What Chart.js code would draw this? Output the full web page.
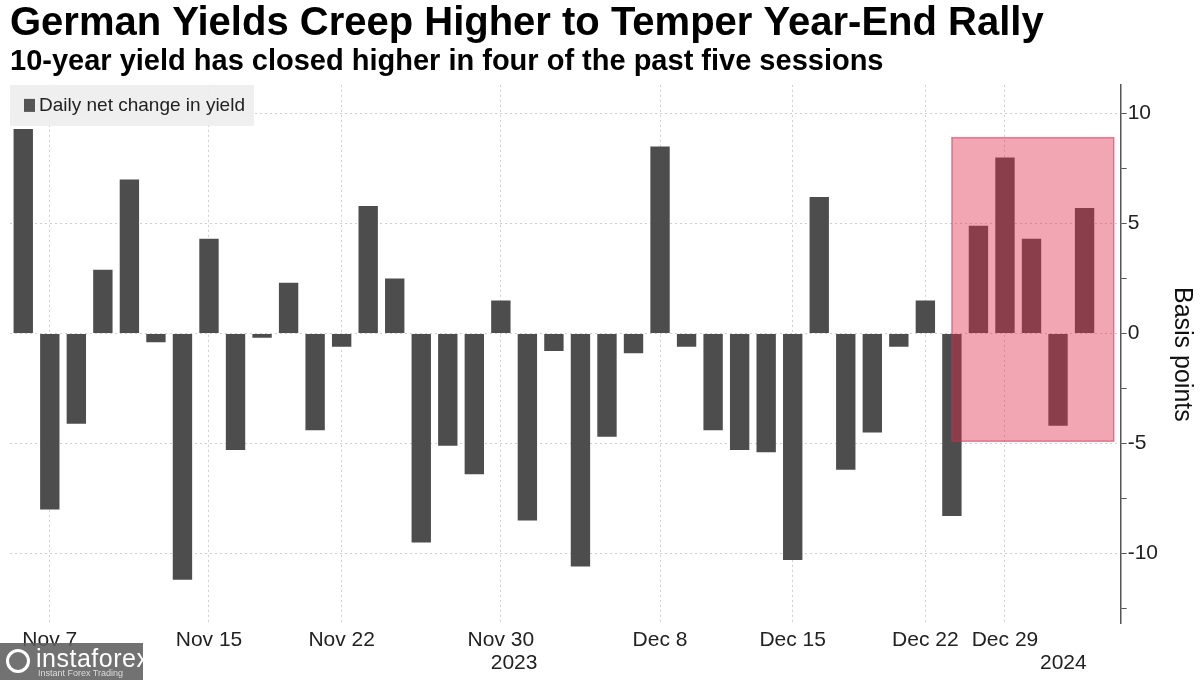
<!DOCTYPE html>
<html>
<head>
<meta charset="utf-8">
<script src="https://cdn.jsdelivr.net/npm/chart.js@4.4.0/dist/chart.umd.min.js"></script>
<style>
    html, body { margin: 0; padding: 0; background: #fff; }
    #wrap { position: relative; width: 1200px; height: 680px; }
    #logo {
        position: absolute; left: 0; top: 643px; width: 143px; height: 37px;
        background: rgba(95, 95, 95, 0.88); color: #fff;
        font-family: 'Liberation Sans', sans-serif;
    }
    #logo .big { position: absolute; left: 36px; top: 1px; font-size: 25px; letter-spacing: 0.5px; }
    #logo .small { position: absolute; left: 38px; top: 25px; font-size: 9px; color: #ddd; }
    #logo .gear { position: absolute; left: 6px; top: 6px; width: 24px; height: 24px; border-radius: 50%; border: 3px solid #fff; box-sizing: border-box; }
</style>
</head>
<body>
<div id="wrap">
    <canvas id="myChart" width="1200" height="680"></canvas>
    <div id="logo"><div class="gear"></div><span class="big">instaforex</span><span class="small">Instant Forex Trading</span></div>
</div>
<script>
    // trading days shown on the chart
    const dates = ['Nov 6', 'Nov 7', 'Nov 8', 'Nov 9', 'Nov 10', 'Nov 13', 'Nov 14', 'Nov 15', 'Nov 16', 'Nov 17',
        'Nov 20', 'Nov 21', 'Nov 22', 'Nov 23', 'Nov 24', 'Nov 27', 'Nov 28', 'Nov 29', 'Nov 30', 'Dec 1',
        'Dec 4', 'Dec 5', 'Dec 6', 'Dec 7', 'Dec 8', 'Dec 11', 'Dec 12', 'Dec 13', 'Dec 14', 'Dec 15',
        'Dec 18', 'Dec 19', 'Dec 20', 'Dec 21', 'Dec 22', 'Dec 27', 'Dec 28', 'Dec 29', 'Jan 2', 'Jan 3', 'Jan 4'];
    // daily net change in 10y Bund yield (bp)
    const changes = [9.3, -8.0, -4.1, 2.9, 7.0, -0.4, -11.2, 4.3, -5.3, -0.2,
        2.3, -4.4, -0.6, 5.8, 2.5, -9.5, -5.1, -6.4, 1.5, -8.5,
        -0.8, -10.6, -4.7, -0.9, 8.5, -0.6, -4.4, -5.3, -5.4, -10.3,
        6.2, -6.2, -4.5, -0.6, 1.5, -8.3, 4.9, 8.0, 4.3, -4.2, 5.7];
    const tickDates = ['Nov 7', 'Nov 15', 'Nov 22', 'Nov 30', 'Dec 8', 'Dec 15', 'Dec 22', 'Dec 29'];
    const yearLabels = ['2023', '2024'];
    const yearDates = ['Nov 30', 'Jan 3'];
    const yTickValues = [10, 7.5, 5, 2.5, 0, -2.5, -5, -7.5, -10, -12.5];
    const highlightFrom = 'Dec 27';
    const highlightRange = [-4.9, 8.9];

    const FONT = "'Liberation Sans', Arial, sans-serif";

    // x positions (index) for ticks, years sit a bit right of their date
    const xTicks = tickDates.map(d => ({ value: dates.indexOf(d), label: d, year: false }));
    yearLabels.forEach((y, i) => {
        xTicks.push({ value: dates.indexOf(yearDates[i]) + (i == 0 ? 0.5 : 0.2), label: ['', y], year: true });
    });

    const legendBox = {
        id: 'legendBox',
        afterDatasetsDraw(chart) {
            const ctx = chart.ctx, a = chart.chartArea;
            const text = 'Daily net change in yield';
            ctx.save();
            ctx.font = '19px ' + FONT;
            const w = ctx.measureText(text).width;
            ctx.fillStyle = 'rgba(238,238,238,0.92)';
            ctx.fillRect(a.left, a.top, w + 38, 41);
            ctx.fillStyle = '#555';
            ctx.fillRect(a.left + 14, a.top + 14, 11, 13);
            ctx.fillStyle = '#222';
            ctx.textBaseline = 'middle';
            ctx.fillText(text, a.left + 29, a.top + 21);
            ctx.restore();
        }
    };

    const highlightBox = {
        id: 'highlightBox',
        afterDatasetsDraw(chart) {
            const ctx = chart.ctx, x = chart.scales.x, y = chart.scales.y;
            const left = x.getPixelForValue(dates.indexOf(highlightFrom));
            const right = x.getPixelForValue(dates.length + 0.1);
            const top = y.getPixelForValue(highlightRange[1]);
            const bottom = y.getPixelForValue(highlightRange[0]);
            ctx.save();
            ctx.fillStyle = 'rgba(225, 40, 75, 0.42)';
            ctx.fillRect(left, top, right - left, bottom - top);
            ctx.strokeStyle = 'rgba(200, 50, 80, 0.55)';
            ctx.lineWidth = 1.5;
            ctx.strokeRect(left, top, right - left, bottom - top);
            ctx.restore();
        }
    };

    var ctx1 = document.getElementById('myChart');
    var myChart = new Chart(ctx1, {
        type: 'bar',
        data: {
            datasets: [{
                label: 'Daily net change in yield',
                data: changes.map((v, i) => ({ x: i, y: v })),
                backgroundColor: '#4d4d4d',
                barPercentage: 0.73,
                categoryPercentage: 1.0
            }]
        },
        options: {
            responsive: false,
            animation: false,
            layout: { padding: { left: 10, right: 0, top: 2, bottom: 0 } },
            plugins: {
                legend: { display: false },
                tooltip: { enabled: false },
                title: {
                    display: true,
                    text: 'German Yields Creep Higher to Temper Year-End Rally',
                    align: 'start',
                    color: '#000',
                    font: { family: FONT, size: 40, weight: 'bold', lineHeight: 1.1 },
                    padding: { top: 0, bottom: 0 }
                },
                subtitle: {
                    display: true,
                    text: '10-year yield has closed higher in four of the past five sessions',
                    align: 'start',
                    color: '#000',
                    font: { family: FONT, size: 29, weight: 'bold', lineHeight: 1.1 },
                    padding: { top: 0, bottom: 7 }
                }
            },
            scales: {
                x: {
                    type: 'linear',
                    offset: false,
                    min: -0.5,
                    max: dates.length + 0.36,
                    afterBuildTicks: (axis) => {
                        axis.ticks = xTicks.map(t => ({ value: t.value }));
                    },
                    ticks: {
                        autoSkip: false,
                        maxRotation: 0,
                        color: '#222',
                        padding: 5,
                        font: { family: FONT, size: 21, lineHeight: 1.1 },
                        callback: (value) => {
                            const t = xTicks.find(k => k.value === value);
                            return t ? t.label : '';
                        }
                    },
                    grid: {
                        offset: false,
                        drawTicks: false,
                        color: (c) => {
                            const t = c.tick && xTicks.find(k => k.value === c.tick.value);
                            return t && !t.year ? '#cfcfcf' : 'rgba(0,0,0,0)';
                        }
                    },
                    border: { display: false, dash: [2, 3] }
                },
                y: {
                    position: 'right',
                    min: -13.2,
                    max: 11.3,
                    afterBuildTicks: (axis) => {
                        axis.ticks = yTickValues.map(v => ({ value: v }));
                    },
                    ticks: {
                        color: '#222',
                        padding: 1,
                        font: { family: FONT, size: 21 },
                        callback: (v) => (v % 5 === 0 ? v : '')
                    },
                    grid: {
                        color: (c) => (c.tick && c.tick.value % 5 === 0 ? '#cfcfcf' : 'rgba(0,0,0,0)'),
                        tickColor: '#555',
                        tickLength: 6
                    },
                    border: { display: true, color: '#555', width: 1.5, dash: [2, 3] },
                    title: {
                        display: true,
                        text: 'Basis points',
                        color: '#111',
                        font: { family: FONT, size: 25 },
                        padding: { top: 3, bottom: 8 }
                    }
                }
            }
        },
        plugins: [highlightBox, legendBox]
    });
</script>
</body>
</html>
